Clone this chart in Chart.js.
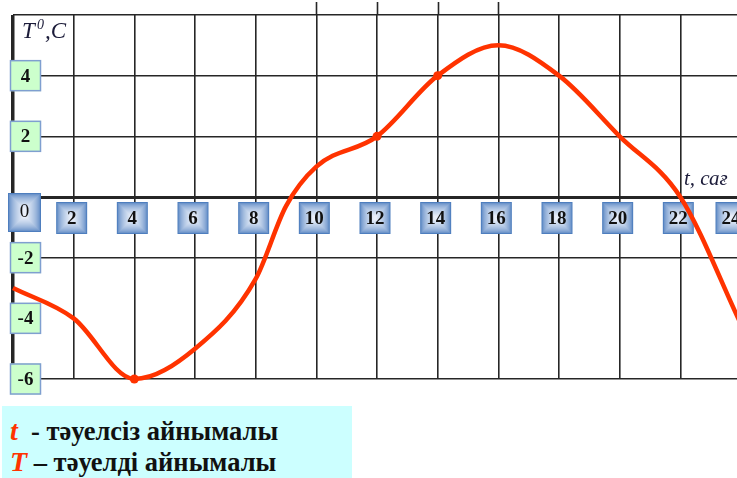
<!DOCTYPE html>
<html>
<head>
<meta charset="utf-8">
<script src="https://cdn.jsdelivr.net/npm/chart.js@4.4.1/dist/chart.umd.min.js"></script>
<style>
  html, body { margin: 0; padding: 0; background: #fff; overflow: hidden; width: 737px; height: 478px; }
  #wrap { position: relative; width: 737px; height: 478px; overflow: hidden; }
  #chart { position: absolute; left: 0; top: 0; }
  #note {
    position: absolute; left: 2px; top: 406px; width: 350px; height: 72px;
    background: #ccffff; font-family: "Liberation Serif", "DejaVu Serif", serif;
    font-weight: bold; font-size: 26.5px; color: #111; line-height: 30px;
  }
  #note div { position: absolute; left: 8px; white-space: nowrap; }
  #note .v { color: #ff3300; font-style: italic; font-size: 28px; }
</style>
</head>
<body>
<div id="wrap">
  <canvas id="chart" width="760" height="478"></canvas>
  <div id="note">
    <div style="top:10px"><span class="v">t</span>&nbsp; - тәуелсіз айнымалы</div>
    <div style="top:41px"><span class="v">T</span> – тәуелді айнымалы</div>
  </div>
</div>
<script>
// time of day, hours
const hours = [0, 2, 4, 6, 8, 9, 10, 12, 14, 16, 18, 20, 22, 24];
// air temperature, degrees
const temps = [-3, -4, -6, -5, -2.7, -0.3, 1, 2, 4, 5, 4, 2, 0, -4.2];
// hours where the curve gets a dot
const markedHours = [4, 12, 14];
// labels in the boxes
const xTickLabels = ['0', '2', '4', '6', '8', '10', '12', '14', '16', '18', '20', '22', '24'];
const yTickLabels = [4, 2, -2, -4, -6];

const serif = '"Liberation Serif", "DejaVu Serif", serif';

function bevelBox(ctx, x, y, w, h) {
  const steps = Math.floor(Math.min(w, h) / 2);
  for (let i = 0; i < steps; i++) {
    const k = Math.pow(i / steps, 0.6);
    const r = Math.round(78 + (240 - 78) * k);
    const g = Math.round(126 + (244 - 126) * k);
    const b = Math.round(190 + (252 - 190) * k);
    ctx.fillStyle = `rgb(${r},${g},${b})`;
    ctx.fillRect(x + i, y + i, w - 2 * i, h - 2 * i);
  }
}

const boxes = {
  id: 'boxes',
  beforeDatasetsDraw(chart) {
    const { ctx, scales: { x, y }, chartArea } = chart;
    ctx.save();

    // a few grid lines poke above the frame
    ctx.strokeStyle = '#262626';
    ctx.lineWidth = 1.6;
    [10, 12, 14, 16].forEach((h) => {
      const px = Math.round(x.getPixelForValue(h)) + 0.5;
      ctx.beginPath();
      ctx.moveTo(px, 2);
      ctx.lineTo(px, chartArea.top);
      ctx.stroke();
    });

    // hour labels under the time axis
    const y0 = y.getPixelForValue(0);
    ctx.textAlign = 'center';
    ctx.textBaseline = 'middle';
    xTickLabels.forEach((lbl, i) => {
      const px = x.getPixelForValue(Number(lbl));
      if (i === 0) {
        bevelBox(ctx, px - 5, y0 - 4, 33, 39);
        ctx.fillStyle = '#111';
        ctx.font = '19px ' + serif;
        ctx.fillText(lbl, px + 11.5, y0 + 15);
        return;
      }
      const cx = px - (i === 12 ? 10 : 2);
      bevelBox(ctx, cx - 15.5, y0 + 5, 31, 32);
      ctx.fillStyle = '#111';
      ctx.font = 'bold 19px ' + serif;
      ctx.fillText(lbl, cx, y0 + 22);
    });

    // temperature labels on the left
    yTickLabels.forEach((v) => {
      const py = y.getPixelForValue(v);
      ctx.fillStyle = '#ccffcc';
      ctx.fillRect(10, py - 15.5, 31, 31);
      ctx.strokeStyle = '#7f9fd0';
      ctx.lineWidth = 1.5;
      ctx.strokeRect(10.5, py - 15, 30, 30);
      ctx.fillStyle = '#111';
      ctx.font = 'bold 19px ' + serif;
      ctx.fillText(String(v), 25.5, py + 1);
    });

    // axis names
    ctx.fillStyle = '#1c1c3a';
    ctx.textAlign = 'left';
    ctx.textBaseline = 'alphabetic';
    ctx.font = 'italic 23px ' + serif;
    ctx.fillText('T', 22, 38);
    ctx.font = 'italic 14px ' + serif;
    ctx.fillText('0', 37, 29);
    ctx.font = 'italic 23px ' + serif;
    ctx.fillText(',C', 45, 38);
    ctx.font = 'italic 21px ' + serif;
    ctx.fillText('t, сағ', 684, 185);

    ctx.restore();
  }
};

new Chart(document.getElementById('chart'), {
  type: 'line',
  data: {
    datasets: [{
      data: hours.map((h, i) => ({ x: h, y: temps[i] })),
      borderColor: '#ff3300',
      backgroundColor: '#ff3300',
      borderWidth: 4.5,
      cubicInterpolationMode: 'monotone',
      pointRadius: hours.map((h) => (markedHours.includes(h) ? 4.5 : 0)),
      pointBorderWidth: 0,
      clip: false
    }]
  },
  options: {
    responsive: false,
    animation: false,
    layout: { padding: { left: 13, top: 15, right: 19, bottom: 99 } },
    plugins: { legend: { display: false }, tooltip: { enabled: false } },
    scales: {
      x: {
        type: 'linear',
        min: 0,
        max: 24,
        ticks: { display: false, stepSize: 2 },
        border: { display: false },
        grid: {
          drawTicks: false,
          color: '#262626',
          lineWidth: (c) => (c.tick && c.tick.value === 0 ? 3.5 : 1.6)
        }
      },
      y: {
        min: -6,
        max: 6,
        ticks: { display: false, stepSize: 2 },
        border: { display: false },
        grid: {
          drawTicks: false,
          color: (c) => (c.tick && c.tick.value === -4 ? 'rgba(0,0,0,0)' : '#262626'),
          lineWidth: (c) => (c.tick && c.tick.value === 0 ? 3 : 1.6)
        }
      }
    }
  },
  plugins: [boxes]
});
</script>
</body>
</html>
